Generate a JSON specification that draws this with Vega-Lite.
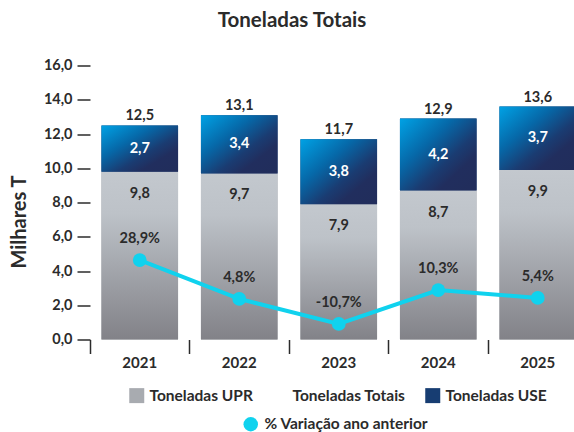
{
  "$schema": "https://vega.github.io/schema/vega-lite/v6.json",
  "width": 484,
  "height": 274,
  "autosize": "none",
  "padding": {"left": 90, "top": 65.5, "right": 0, "bottom": 92.5},
  "background": "white",
  "title": {"text": "Toneladas Totais", "font": "Lato", "fontSize": 20.5, "fontWeight": "bold", "color": "#2b2b2b", "anchor": "middle", "dx": -40, "offset": 26},
  "config": {
    "view": {"stroke": null},
    "font": "Lato",
    "locale": {"number": {"decimal": ",", "thousands": ".", "grouping": [3], "currency": ["", " €"], "percent": "%", "minus": "-"}},
    "axisY": {"values": [0, 2, 4, 6, 8, 10, 12, 14, 16], "tickCount": 9, "labelOverlap": false}
  },
  "datasets": {
    "bars": [
      {"ano": "2021", "serie": "Toneladas UPR", "valor": 9.8},
      {"ano": "2021", "serie": "Toneladas USE", "valor": 2.7},
      {"ano": "2022", "serie": "Toneladas UPR", "valor": 9.7},
      {"ano": "2022", "serie": "Toneladas USE", "valor": 3.4},
      {"ano": "2023", "serie": "Toneladas UPR", "valor": 7.9},
      {"ano": "2023", "serie": "Toneladas USE", "valor": 3.8},
      {"ano": "2024", "serie": "Toneladas UPR", "valor": 8.7},
      {"ano": "2024", "serie": "Toneladas USE", "valor": 4.2},
      {"ano": "2025", "serie": "Toneladas UPR", "valor": 9.9},
      {"ano": "2025", "serie": "Toneladas USE", "valor": 3.7}
    ],
    "totais": [
      {"ano": "2021", "total": 12.5},
      {"ano": "2022", "total": 13.1},
      {"ano": "2023", "total": 11.7},
      {"ano": "2024", "total": 12.9},
      {"ano": "2025", "total": 13.6}
    ],
    "variacao": [
      {"ano": "2021", "pct": 0.289},
      {"ano": "2022", "pct": 0.048},
      {"ano": "2023", "pct": -0.107},
      {"ano": "2024", "pct": 0.103},
      {"ano": "2025", "pct": 0.054}
    ]
  },
  "encoding": {
    "x": {
      "field": "ano", "type": "ordinal",
      "scale": {"type": "band", "paddingInner": 0, "paddingOuter": 0, "range": [0, 497.5]},
      "axis": {"title": null, "labelAngle": 0, "domain": false, "grid": false, "bandPosition": 0, "tickSize": 14, "tickColor": "#2b2b2b", "tickWidth": 1.5, "labelFont": "Lato", "labelFontSize": 15, "labelFontWeight": "bold", "labelColor": "#2b2b2b", "labelPadding": 2}
    }
  },
  "layer": [
    {
      "layer": [
        {
          "data": {"name": "bars"},
          "mark": {"type": "bar", "width": {"band": 0.77}},
          "encoding": {
            "y": {
              "field": "valor", "type": "quantitative", "stack": "zero",
              "scale": {"domain": [0, 16], "nice": false},
              "axis": {"title": "Milhares T", "values": [0, 2, 4, 6, 8, 10, 12, 14, 16], "tickCount": 9, "format": ".1f", "labelOverlap": false, "domain": false, "grid": false, "tickSize": 13, "tickWidth": 1.5, "tickColor": "#2b2b2b", "labelPadding": 5, "labelFont": "Lato", "labelFontSize": 14.5, "labelFontWeight": "bold", "labelColor": "#2b2b2b", "titleFont": "Lato", "titleFontSize": 20, "titleFontWeight": "bold", "titleColor": "#2b2b2b", "titlePadding": 14, "titleY": 156}
            },
            "order": {"field": "serie", "type": "ordinal", "sort": "ascending"},
            "color": {
              "field": "serie", "type": "nominal",
              "scale": {
                "domain": ["Toneladas UPR", "Toneladas Totais", "Toneladas USE"],
                "range": ["#a8abb0", "transparent", "#173d72"]
              },
              "legend": {"orient": "none", "legendX": 39, "legendY": 322, "direction": "horizontal", "title": null, "symbolType": "square", "symbolSize": 225, "symbolStrokeWidth": 0, "symbolOpacity": 1, "labelFont": "Lato", "labelFontSize": 15.5, "labelFontWeight": "bold", "labelColor": "#2b2b2b", "labelOffset": 5, "labelLimit": 300, "columnPadding": 19, "padding": 0}
            }
          }
        },
        {
          "data": {"name": "bars"},
          "mark": {"type": "bar", "width": {"band": 0.77}},
          "encoding": {
            "y": {"field": "valor", "type": "quantitative", "stack": "zero"},
            "order": {"field": "serie", "type": "ordinal", "sort": "ascending"},
            "detail": {"field": "serie"},
            "fill": {
              "condition": {
                "test": "datum.serie === 'Toneladas USE'",
                "value": {"gradient": "linear", "x1": 0, "y1": 0, "x2": 1, "y2": 1, "stops": [{"offset": 0, "color": "#00a2e5"}, {"offset": 0.35, "color": "#0668a8"}, {"offset": 0.6, "color": "#1a3c72"}, {"offset": 0.75, "color": "#212e5e"}, {"offset": 1, "color": "#212d5b"}]}
              },
              "value": {"gradient": "linear", "x1": 0, "y1": 0, "x2": 0, "y2": 1, "stops": [{"offset": 0, "color": "#c3c8ce"}, {"offset": 0.25, "color": "#bdc2c8"}, {"offset": 1, "color": "#828288"}]}
            }
          }
        },
        {
          "data": {"name": "bars"},
          "transform": [{"filter": "datum.serie === 'Toneladas UPR'"}],
          "mark": {"type": "text", "font": "Lato", "fontSize": 14.5, "fontWeight": "bold", "color": "#2b2b2b", "dy": 22},
          "encoding": {
            "y": {"field": "valor", "type": "quantitative", "stack": null},
            "text": {"field": "valor", "type": "quantitative", "format": ".1f"}
          }
        },
        {
          "data": {"name": "bars"},
          "mark": {"type": "text", "font": "Lato", "fontSize": 14.5, "fontWeight": "bold", "color": "white"},
          "encoding": {
            "y": {"field": "valor", "type": "quantitative", "stack": "zero", "bandPosition": 0.5},
            "order": {"field": "serie", "type": "ordinal", "sort": "ascending"},
            "detail": {"field": "serie"},
            "text": {"field": "valor", "type": "quantitative", "format": ".1f"},
            "opacity": {"condition": {"test": "datum.serie === 'Toneladas USE'", "value": 1}, "value": 0}
          }
        },
        {
          "data": {"name": "totais"},
          "mark": {"type": "text", "font": "Lato", "fontSize": 14.5, "fontWeight": "bold", "color": "#2b2b2b", "dy": -9},
          "encoding": {
            "y": {"field": "total", "type": "quantitative"},
            "text": {"field": "total", "type": "quantitative", "format": ".1f"}
          }
        }
      ]
    },
    {
      "data": {"name": "variacao"},
      "encoding": {
        "y": {"field": "pct", "type": "quantitative", "scale": {"domain": [-0.2036, 1.495], "nice": false, "zero": false}, "axis": null}
      },
      "layer": [
        {"mark": {"type": "line", "color": "#10d2ee", "strokeWidth": 4}},
        {
          "mark": {"type": "circle", "size": 190, "opacity": 1},
          "encoding": {
            "fill": {
              "datum": "% Variação ano anterior", "type": "nominal",
              "scale": {"range": ["#10d2ee"]},
              "legend": {"orient": "none", "legendX": 153, "legendY": 351, "title": null, "symbolType": "circle", "symbolSize": 210, "symbolStrokeWidth": 0, "symbolOpacity": 1, "labelFont": "Lato", "labelFontSize": 15.5, "labelFontWeight": "bold", "labelColor": "#2b2b2b", "labelOffset": 6, "labelLimit": 300, "padding": 0}
            }
          }
        },
        {
          "mark": {"type": "text", "font": "Lato", "fontSize": 14.5, "fontWeight": "bold", "color": "#2b2b2b", "dy": -21},
          "encoding": {
            "text": {"field": "pct", "type": "quantitative", "format": ".1%"}
          }
        }
      ]
    }
  ],
  "resolve": {"scale": {"y": "independent"}, "axis": {"y": "independent"}}
}
